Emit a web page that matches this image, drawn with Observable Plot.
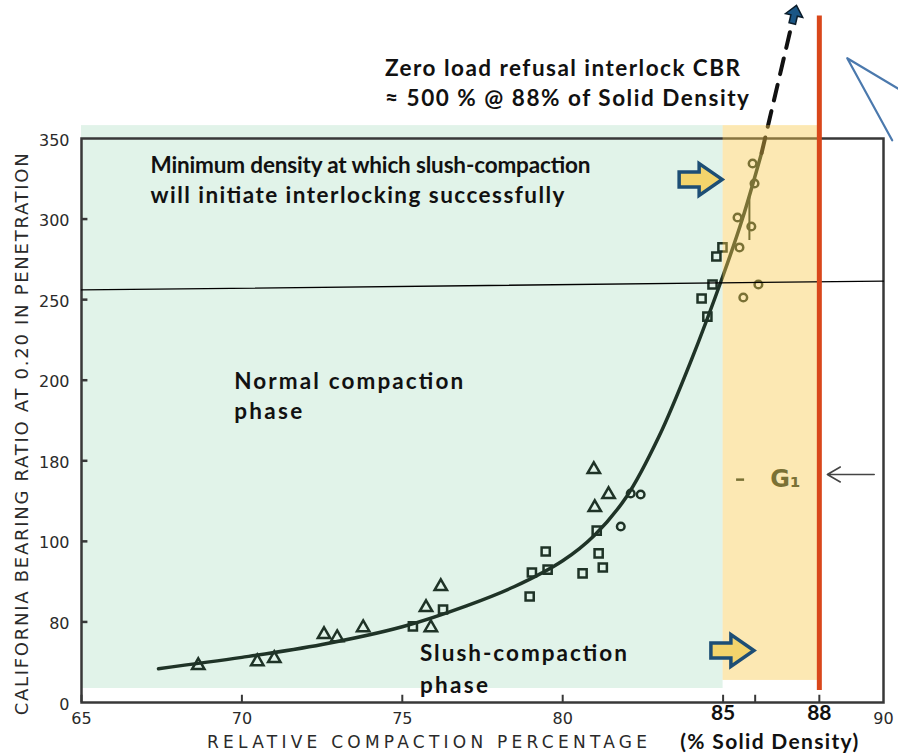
<!DOCTYPE html>
<html>
<head>
<meta charset="utf-8">
<script src="https://cdn.jsdelivr.net/npm/d3@7"></script>
<script src="https://cdn.jsdelivr.net/npm/@observablehq/plot@0.6"></script>
<style>
  html, body { margin: 0; padding: 0; background: #fff; }
  #chart svg { display: block; }
</style>
</head>
<body>
<div id="chart"></div>
<script>
// ---------------- data ----------------
const yTickValues = [0, 50, 100, 150, 200, 250, 300, 350];
const yTickLabels = ["0", "80", "100", "180", "200", "250", "300", "350"];
const xTickValues = [65, 70, 75, 80, 85, 86, 88];
const xScanLabelValues = [65, 70, 75, 80, 90];
const xScanLabels = ["65", "70", "75", "80", "90"];
const xBoldLabelValues = [85, 88];
const xBoldLabels = ["85", "88"];

// fitted curve
const curveX = [67.4, 70, 72.5, 75, 77, 78.5, 80, 81, 82, 83, 84, 85, 85.6, 86.2];
const curveY = [21, 28, 36, 47, 60, 72, 88, 104, 128, 165, 212, 265, 300, 341];

// measured points
const triangleX = [68.64, 70.48, 71.01, 72.56, 72.97, 73.78, 75.74, 75.89, 76.20, 80.97, 81.43, 81.00];
const triangleY = [23.0, 25.4, 27.3, 42.2, 40.3, 46.5, 59.0, 46.5, 72.0, 144.6, 129.1, 121.0];
const squareX = [75.33, 76.27, 78.97, 79.04, 79.47, 79.53, 80.62, 81.06, 81.12, 81.25, 84.33, 84.51, 84.67, 84.79, 84.98];
const squareY = [47.2, 57.7, 65.8, 80.7, 93.7, 82.5, 80.1, 106.7, 92.5, 83.8, 250.7, 239.5, 259.4, 276.8, 282.4];
const circleX = [81.81, 82.12, 82.43, 85.51, 85.45, 85.88, 86.10, 85.63, 85.98, 85.92];
const circleY = [109.2, 129.7, 129.1, 282.4, 301.0, 295.4, 259.4, 251.3, 322.1, 334.5];

// zones and reference lines
const normalZoneX = [65, 85];
const normalZoneY = [8.7, 358];
const slushZoneX = [85, 88];
const slushZoneY = [13.7, 358];
const refusalDensity = 88;
const refusalLineY = [7.4, 426];
const thresholdX = [65, 90];
const thresholdY = [256, 261.5];
const extrapX = [86.2, 87.13];
const extrapY = [341, 420];
const extrapTip = [87.21, 426];
const calloutX = [90.45, 88.87, 90.27];
const calloutY = [381, 399.8, 348.9];
const pointerArrowX = [84.30, 85.29];
const pointerArrowY = [324.6, 32.3];
const g1X = 86.94, g1Y = 138.3;
const g1ArrowX = [89.71, 88.25];
const g1ArrowY = 141.5;
const g1MarkX = [85.42, 85.67];
const errBarX = 85.82, errBarY = [286.7, 313.4];

const annotationText = [
  "Zero load refusal interlock CBR",
  "≈ 500 % @ 88% of Solid Density",
  "Minimum density at which slush-compaction",
  "will initiate interlocking successfully",
  "Normal compaction",
  "phase",
  "Slush-compaction",
  "phase"
];
const annotationX = [74.46, 74.46, 67.15, 67.15, 69.76, 69.76, 75.55, 75.55];
const annotationY = [393.5, 374.9, 333.3, 314.7, 199.3, 180.6, 30.4, 10.6];

const xTitle = "RELATIVE COMPACTION PERCENTAGE";
const xSubTitle = "(% Solid Density)";
const yTitle = "CALIFORNIA BEARING RATIO AT 0.20 IN PENETRATION";

// ---------------- styling ----------------
const W = 898, H = 753;
const ink = "#1f3327";
const scanInk = "#2a2a2a";
const fontScan = "DejaVu Sans";
const fontBold = "Lato";

const fitWidths = new Map([
  ["Zero load refusal interlock CBR", 355],
  ["≈ 500 % @ 88% of Solid Density", 364],
  ["Minimum density at which slush-compaction", 440],
  ["will initiate interlocking successfully", 414],
  ["Normal compaction", 229],
  ["phase", 68],
  ["Slush-compaction", 207],
  [xTitle, 440],
  [yTitle, 562],
  [xSubTitle, 178]
]);

const blockArrow = {
  draw(ctx, size) {
    const r = Math.sqrt(size / Math.PI);
    const sh = 0.35 * r, hh = 0.74 * r, hx = -0.07 * r;
    ctx.moveTo(-r, -sh);
    ctx.lineTo(hx, -sh);
    ctx.lineTo(hx, -hh);
    ctx.lineTo(r, 0);
    ctx.lineTo(hx, hh);
    ctx.lineTo(hx, sh);
    ctx.lineTo(-r, sh);
    ctx.closePath();
  }
};
const arrowHead = {
  draw(ctx, size) {
    const r = Math.sqrt(size / Math.PI);
    ctx.moveTo(0, -r);
    ctx.lineTo(0.8 * r, -0.05 * r);
    ctx.lineTo(0.3 * r, -0.05 * r);
    ctx.lineTo(0.3 * r, 0.7 * r);
    ctx.lineTo(-0.3 * r, 0.7 * r);
    ctx.lineTo(-0.3 * r, -0.05 * r);
    ctx.lineTo(-0.8 * r, -0.05 * r);
    ctx.closePath();
  }
};

const zip = (xs, ys) => xs.map((x, i) => ({x, y: ys[i]}));
const curve = zip(curveX, curveY);
const triangles = zip(triangleX, triangleY);
const squares = zip(squareX, squareY);
const circles = zip(circleX, circleY);
const annotations = annotationText.map((t, i) => ({t, x: annotationX[i], y: annotationY[i]}));

const chart = Plot.plot({
  width: W,
  height: H,
  marginLeft: 81,
  marginRight: 15,
  marginTop: 138,
  marginBottom: 51,
  x: {domain: [65, 90], axis: null},
  y: {domain: [0, 350], axis: null},
  style: {background: "#fff", overflow: "visible"},
  marks: [
    // normal compaction zone
    Plot.rect([{x1: normalZoneX[0], x2: normalZoneX[1], y1: normalZoneY[0], y2: normalZoneY[1]}],
      {x1: "x1", x2: "x2", y1: "y1", y2: "y2", fill: "#e1f3e9"}),
    // frame and ticks
    Plot.frame({stroke: "#383838", strokeWidth: 2.5}),
    Plot.ruleX(xTickValues, {x: d => d, y1: () => 0, y2: () => 4.5, stroke: "#383838", strokeWidth: 2}),
    Plot.ruleY(yTickValues.slice(1, -1), {y: d => d, x1: () => 65, x2: () => 65.2, stroke: "#383838", strokeWidth: 2.5}),
    // fitted curve and points
    Plot.line(curve, {x: "x", y: "y", curve: "catmull-rom", stroke: ink, strokeWidth: 3.5}),
    Plot.dot(triangles, {x: "x", y: "y", symbol: "triangle", r: 4.6, stroke: ink, strokeWidth: 2.5, fill: "none"}),
    Plot.dot(squares, {x: "x", y: "y", symbol: "square", r: 4.6, stroke: ink, strokeWidth: 2.5, fill: "none"}),
    Plot.dot(circles, {x: "x", y: "y", symbol: "circle", r: 3.8, stroke: ink, strokeWidth: 2.5, fill: "none"}),
    Plot.ruleX([errBarX], {x: d => d, y1: () => errBarY[0], y2: () => errBarY[1], stroke: ink, strokeWidth: 2}),
    // extrapolation (dashed)
    Plot.line(zip(extrapX, extrapY), {x: "x", y: "y", stroke: "#111", strokeWidth: 4, strokeDasharray: "16,11"}),
    // G1 marker (scan)
    Plot.ruleY([g1Y], {y: d => d, x1: () => g1MarkX[0], x2: () => g1MarkX[1], stroke: ink, strokeWidth: 2.5}),
    Plot.text([{x: g1X, y: g1Y, t: "G₁"}], {x: "x", y: "y", text: "t", fontFamily: fontScan, fontWeight: "bold",
      fontSize: 24, fill: ink, textAnchor: "middle"}),
    // slush zone overlay
    Plot.rect([{x1: slushZoneX[0], x2: slushZoneX[1], y1: slushZoneY[0], y2: slushZoneY[1]}],
      {x1: "x1", x2: "x2", y1: "y1", y2: "y2", fill: "#f9c84a", fillOpacity: 0.42}),
    // threshold line
    Plot.line(zip(thresholdX, thresholdY), {x: "x", y: "y", stroke: "#000", strokeWidth: 1.3}),
    // refusal density line
    Plot.ruleX([refusalDensity], {x: d => d, y1: () => refusalLineY[0], y2: () => refusalLineY[1], stroke: "#d9471b", strokeWidth: 5}),
    // arrowhead of extrapolation
    Plot.dot([{x: extrapTip[0], y: extrapTip[1]}], {x: "x", y: "y", symbol: arrowHead, r: 11, rotate: 13, fill: "#1b5685", stroke: "#0b1d2b", strokeWidth: 1.5}),
    // G1 pointer
    Plot.arrow([{x1: g1ArrowX[0], y1: g1ArrowY, x2: g1ArrowX[1], y2: g1ArrowY}],
      {x1: "x1", y1: "y1", x2: "x2", y2: "y2", stroke: "#444", strokeWidth: 1.6, headLength: 14}),
    // block arrows
    Plot.dot(zip(pointerArrowX, pointerArrowY), {x: "x", y: "y", symbol: blockArrow, r: 21.5, fill: "#f3d46c", stroke: "#1d4e75", strokeWidth: 3.5}),
    // callout outline
    Plot.line(zip(calloutX, calloutY), {x: "x", y: "y", stroke: "#4b79ad", strokeWidth: 2.2}),
    // axis labels
    Plot.text(yTickValues, {x: () => 65, y: d => d, text: (d, i) => yTickLabels[i], dx: -12, dy: 2, textAnchor: "end",
      fontFamily: fontScan, fontSize: 16, fill: scanInk}),
    Plot.text(xScanLabelValues, {x: d => d, y: () => 0, text: (d, i) => xScanLabels[i], dy: 16, textAnchor: "middle",
      fontFamily: fontScan, fontSize: 16, fill: scanInk}),
    Plot.text(xBoldLabelValues, {x: d => d, y: () => 0, text: (d, i) => xBoldLabels[i], dy: 11, textAnchor: "middle",
      fontFamily: fontBold, fontWeight: "bold", fontSize: 21, fill: "#111"}),
    Plot.text([xTitle], {x: () => 75.77, y: () => 0, text: d => d, dy: 40, textAnchor: "middle",
      fontFamily: fontScan, fontSize: 17, fill: scanInk}),
    Plot.text([xSubTitle], {x: () => 86.44, y: () => 0, text: d => d, dy: 40, textAnchor: "middle",
      fontFamily: fontBold, fontWeight: "bold", fontSize: 21, fill: "#111"}),
    Plot.text([yTitle], {x: () => 63.16, y: () => 166.4, text: d => d, rotate: -90, textAnchor: "middle",
      fontFamily: fontScan, fontSize: 18, fill: scanInk}),
    // annotations
    Plot.text(annotations, {x: "x", y: "y", text: "t", textAnchor: "start",
      fontFamily: fontBold, fontWeight: "bold", fontSize: 22.5, fill: "#111"})
  ]
});

// fit text widths to the reference
chart.querySelectorAll("text").forEach(t => {
  const w = fitWidths.get(t.textContent);
  if (w) {
    t.setAttribute("textLength", w);
    t.setAttribute("lengthAdjust", "spacing");
  }
});

document.getElementById("chart").appendChild(chart);
</script>
</body>
</html>
